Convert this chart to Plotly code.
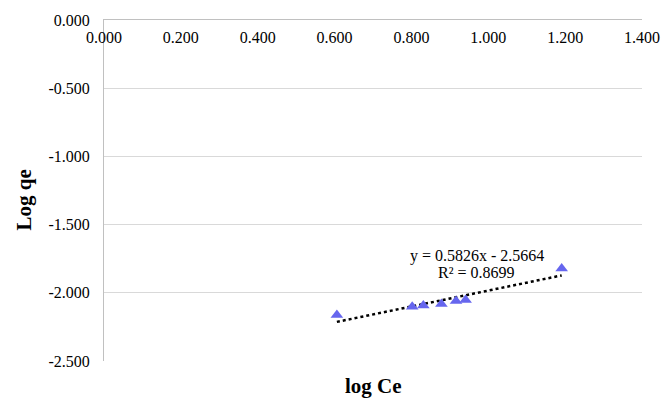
import plotly.graph_objects as go

log_ce = [0.606, 0.802, 0.831, 0.878, 0.916, 0.941, 1.191]
log_qe = [-2.163, -2.102, -2.094, -2.082, -2.060, -2.053, -1.822]
slope = 0.5826
intercept = -2.5664
r2 = 0.8699
x_ticks = [0.0, 0.2, 0.4, 0.6, 0.8, 1.0, 1.2, 1.4]
y_ticks = [0.0, -0.5, -1.0, -1.5, -2.0, -2.5]

FONT = "Liberation Serif"

trend_x = [min(log_ce), max(log_ce)]
trend_y = [slope * v + intercept for v in trend_x]

fig = go.Figure()
fig.add_trace(go.Scatter(x=trend_x, y=trend_y, mode="lines",
                         line=dict(color="black", width=2.5, dash="dot"),
                         showlegend=False, hoverinfo="skip"))
fig.add_trace(go.Scatter(x=log_ce, y=log_qe, mode="markers",
                         marker=dict(symbol="triangle-up", size=11, color="#6666EE"),
                         showlegend=False))

fig.add_annotation(x=0.97, y=-1.727, xref="x", yref="y",
                   text=f"y = {slope}x - {abs(intercept)}",
                   showarrow=False, xanchor="center", yanchor="middle",
                   font=dict(family=FONT, size=16, color="black"))
fig.add_annotation(x=0.97, y=-1.851, xref="x", yref="y",
                   text=f"R² = {r2}",
                   showarrow=False, xanchor="center", yanchor="middle",
                   font=dict(family=FONT, size=16, color="black"))

fig.update_layout(
    width=672, height=398,
    margin=dict(l=104, r=20, t=18, b=37),
    paper_bgcolor="white", plot_bgcolor="white",
    font=dict(family=FONT, size=16, color="black"),
    showlegend=False,
)
fig.update_xaxes(range=[0, 1.4], tickvals=x_ticks,
                 ticktext=[f"{v:.3f}" for v in x_ticks],
                 side="top", ticklabelposition="inside", ticklabeloverflow="allow",
                 ticklabelstandoff=12,
                 showgrid=False, zeroline=False,
                 showline=True, linecolor="#c0c0c0", linewidth=1, ticks="",
                 tickfont=dict(family=FONT, size=16, color="black"),
                 title=None)
fig.update_yaxes(range=[-2.5, 0], tickvals=y_ticks,
                 ticktext=[f"{v:.3f}" for v in y_ticks],
                 ticklabelstandoff=10,
                 showgrid=True, gridcolor="#d9d9d9", gridwidth=1, zeroline=False,
                 showline=True, linecolor="#c0c0c0", linewidth=1, ticks="",
                 tickfont=dict(family=FONT, size=16, color="black"),
                 title=None)

fig.add_annotation(x=0.5, y=0, xref="paper", yref="paper", yshift=-25,
                   text="<b>log Ce</b>", showarrow=False,
                   font=dict(family=FONT, size=21, color="black"),
                   xanchor="center", yanchor="middle")
fig.add_annotation(x=0, y=0.5, xref="paper", yref="paper", xshift=-81, yshift=-10,
                   text="<b>Log qe</b>", showarrow=False, textangle=-90,
                   font=dict(family=FONT, size=21, color="black"),
                   xanchor="center", yanchor="middle")

fig.write_html("out.html")
